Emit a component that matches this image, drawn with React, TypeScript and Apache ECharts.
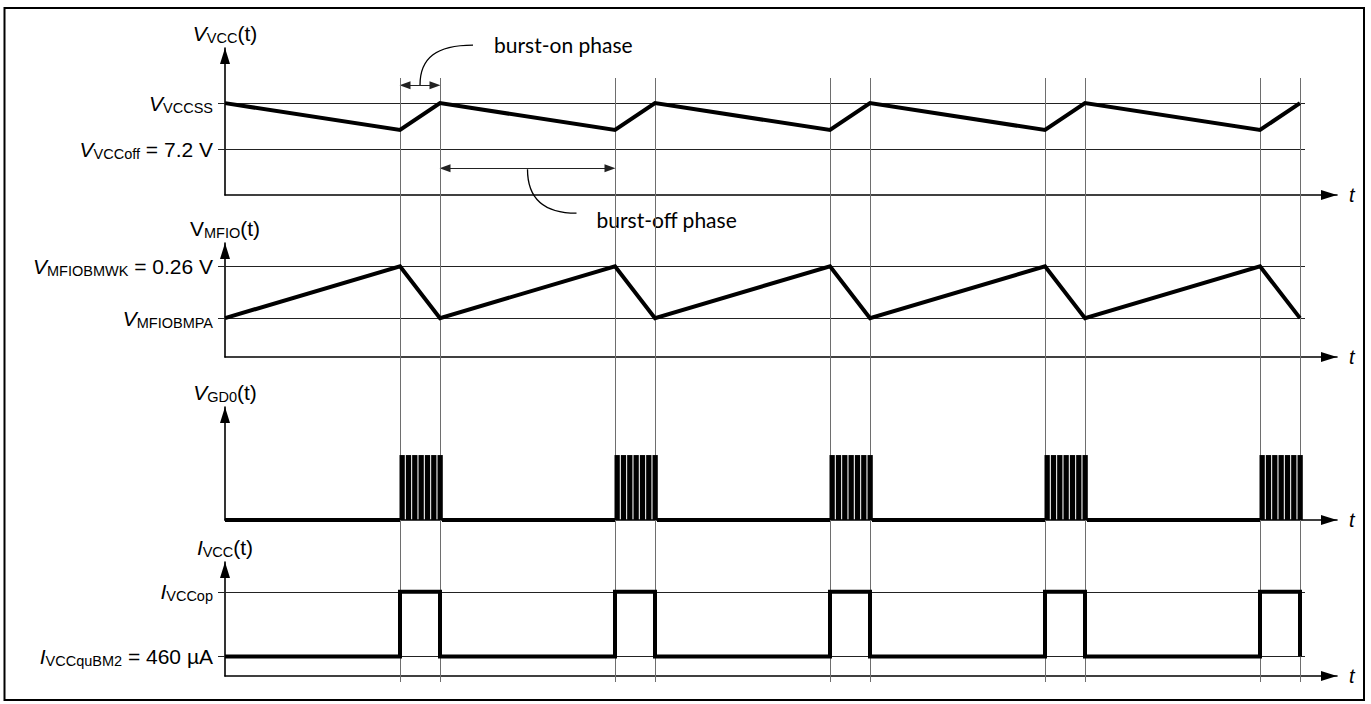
import React, { useEffect, useRef } from "react";
import * as echarts from "echarts";

// ---------- data (arbitrary time units, normalized levels) ----------
const timeMax = 22.24;
const refLineEnd = 21.6;
const burstStarts = [3.5, 7.8, 12.1, 16.4, 20.7];
const burstEnds = [4.3, 8.6, 12.9, 17.2, 21.5];

const vccAxisMax = 6.4;
const vccRefLevels = [2, 4];
const vccRefLabels = ["{i|V}{s|VCCoff}{n| = 7.2 V}", "{i|V}{s|VCCSS}"];
const vccWave = [
  [0, 4], [3.5, 2.83], [4.3, 4], [7.8, 2.83], [8.6, 4], [12.1, 2.83],
  [12.9, 4], [16.4, 2.83], [17.2, 4], [20.7, 2.83], [21.5, 4],
];

const mfioAxisMax = 4.4;
const mfioRefLevels = [1.5, 3.5];
const mfioRefLabels = ["{i|V}{s|MFIOBMPA}", "{i|V}{s|MFIOBMWK}{n| = 0.26 V}"];
const mfioWave = [
  [0, 1.5], [3.5, 3.5], [4.3, 1.5], [7.8, 3.5], [8.6, 1.5], [12.1, 3.5],
  [12.9, 1.5], [16.4, 3.5], [17.2, 1.5], [20.7, 3.5], [21.5, 1.5],
];

const gdAxisMax = 4.35;
const gdPulseHigh = 2.5;
const gdPulseOffsets = [-0.01, 0.117, 0.243, 0.37, 0.497, 0.623, 0.75];
const gdPulseWidth = 0.106;
const gdLowSegments = [
  [0, 3.5], [4.34, 7.8], [8.64, 12.1], [12.94, 16.4], [17.24, 20.7],
];

const ivccAxisMax = 4.4;
const ivccRefLevels = [0.75, 3.25];
const ivccRefLabels = ["{i|I}{s|VCCquBM2}{n| = 460 µA}", "{i|I}{s|VCCop}"];
const ivccWave = [
  [0, 0.75], [3.5, 0.75], [3.5, 3.25], [4.3, 3.25], [4.3, 0.75],
  [7.8, 0.75], [7.8, 3.25], [8.6, 3.25], [8.6, 0.75],
  [12.1, 0.75], [12.1, 3.25], [12.9, 3.25], [12.9, 0.75],
  [16.4, 0.75], [16.4, 3.25], [17.2, 3.25], [17.2, 0.75],
  [20.7, 0.75], [20.7, 3.25], [21.5, 3.25], [21.5, 0.75],
];

const axisNames = [
  "{i|V}{s|VCC}{n|(t)}",
  "{n|V}{s|MFIO}{n|(t)}",
  "{i|V}{s|GD0}{n|(t)}",
  "{i|I}{s|VCC}{n|(t)}",
];

const burstOnArrowLevel = 4.78;
const burstOffArrowLevel = 1.17;
const burstOnText = "burst-on phase";
const burstOffText = "burst-off phase";

// ---------- layout ----------
const FONT = "Liberation Sans";
const gridLeft = 225;
const gridWidth = 1112;
const panelTops = [48, 243, 407, 562];
const panelHeights = [147, 114, 113, 114];

const rich = {
  i: { fontFamily: FONT, fontSize: 21, fontStyle: "italic", color: "#000", lineHeight: 24 },
  n: { fontFamily: FONT, fontSize: 21, color: "#000", lineHeight: 24 },
  s: { fontFamily: FONT, fontSize: 14.5, color: "#000", lineHeight: 16, verticalAlign: "bottom" },
};

function buildOption() {
  const panels = [
    { max: vccAxisMax, levels: vccRefLevels, labels: vccRefLabels },
    { max: mfioAxisMax, levels: mfioRefLevels, labels: mfioRefLabels },
    { max: gdAxisMax, levels: [] as number[], labels: [] as string[] },
    { max: ivccAxisMax, levels: ivccRefLevels, labels: ivccRefLabels },
  ];

  const grid: any[] = panels.map((_, i) => ({
    left: gridLeft, width: gridWidth, top: panelTops[i], height: panelHeights[i],
  }));
  grid.push({ left: gridLeft, width: gridWidth, top: 78, height: 604 });

  const axisLineStyle = { color: "#000", width: 1.6 };

  const xAxis: any[] = panels.map((_, i) => ({
    type: "value", gridIndex: i, min: 0, max: timeMax,
    axisLine: {
      show: true, lineStyle: axisLineStyle,
      symbol: ["none", "triangle"], symbolSize: [10, 16], symbolOffset: [0, -8],
    },
    axisTick: { show: false }, axisLabel: { show: false }, splitLine: { show: false },
    name: "t", nameLocation: "end", nameGap: 12,
    nameTextStyle: { fontFamily: FONT, fontSize: 20, fontStyle: "italic", color: "#000", padding: [4, 0, 0, 0] },
  }));
  xAxis.push({ type: "value", gridIndex: 4, min: 0, max: timeMax, show: false });

  const yAxis: any[] = panels.map((p, i) => ({
    type: "value", gridIndex: i, min: 0, max: p.max,
    axisLine: {
      show: true, lineStyle: axisLineStyle,
      symbol: ["none", "triangle"], symbolSize: [10, 16], symbolOffset: [0, -8],
    },
    axisTick: {
      show: p.levels.length > 0, customValues: p.levels, length: 7, inside: false,
      lineStyle: { color: "#222", width: 1 },
    },
    axisLabel: {
      show: p.levels.length > 0, customValues: p.levels, margin: 12,
      formatter: (v: number) => {
        const k = p.levels.findIndex((l) => Math.abs(l - v) < 1e-6);
        return k >= 0 ? p.labels[k] : "";
      },
      rich,
    },
    splitLine: { show: false },
    name: axisNames[i], nameLocation: "end", nameGap: 3,
    nameTextStyle: { rich, align: "center" },
  }));
  yAxis.push({ type: "value", gridIndex: 4, min: 0, max: 1, show: false });

  const thick = { color: "#000", width: 4, join: "miter", cap: "butt" };
  const refStyle = { color: "#222", width: 1, type: "solid" };

  const refSeries = (i: number, levels: number[], extra: any[] = []) => ({
    type: "line", xAxisIndex: i, yAxisIndex: i, data: [], z: 1, silent: true,
    markLine: {
      silent: true, symbol: ["none", "none"], label: { show: false },
      lineStyle: refStyle, animation: false,
      data: [
        ...levels.map((l) => [{ coord: [0, l] }, { coord: [refLineEnd, l] }]),
        ...extra,
      ],
    },
  });

  const arrowLine = (a: number, b: number, lvl: number) => [
    { coord: [a, lvl], symbol: "triangle", symbolSize: [8, 11] },
    { coord: [b, lvl], symbol: "triangle", symbolSize: [8, 11] },
  ];

  const gdLowData: any[] = [];
  gdLowSegments.forEach(([a, b], k) => {
    if (k > 0) gdLowData.push([a - 0.01, "-"]);
    gdLowData.push([a, 0], [b, 0]);
  });

  const pulses: number[][] = [];
  burstStarts.forEach((s) => {
    gdPulseOffsets.forEach((o) => pulses.push([s + o, s + o + gdPulseWidth, gdPulseHigh]));
  });

  const series: any[] = [
    {
      ...refSeries(0, vccRefLevels, [
        arrowLine(burstStarts[0] + 0.1, burstEnds[0] - 0.1, burstOnArrowLevel),
        arrowLine(burstEnds[0] + 0.1, burstStarts[1] - 0.1, burstOffArrowLevel),
      ]),
    },
    refSeries(1, mfioRefLevels),
    refSeries(3, ivccRefLevels),
    {
      type: "line", xAxisIndex: 4, yAxisIndex: 4, data: [], z: 1, silent: true,
      markLine: {
        silent: true, symbol: ["none", "none"], label: { show: false },
        lineStyle: { color: "#6e6e6e", width: 1, type: "solid" },
        data: [...burstStarts, ...burstEnds].map((t) => ({ xAxis: t })),
      },
    },
    { type: "line", xAxisIndex: 0, yAxisIndex: 0, data: vccWave, symbol: "none", lineStyle: thick, z: 5, silent: true },
    { type: "line", xAxisIndex: 1, yAxisIndex: 1, data: mfioWave, symbol: "none", lineStyle: thick, z: 5, silent: true },
    { type: "line", xAxisIndex: 2, yAxisIndex: 2, data: gdLowData, symbol: "none", lineStyle: thick, z: 5, silent: true, connectNulls: false },
    {
      type: "custom", xAxisIndex: 2, yAxisIndex: 2, z: 5, silent: true,
      data: pulses, encode: { x: [0, 1], y: 2 },
      renderItem: (_p: any, api: any) => {
        const a = api.coord([api.value(0), api.value(2)]);
        const b = api.coord([api.value(1), 0]);
        return {
          type: "rect",
          shape: { x: a[0], y: a[1], width: b[0] - a[0], height: b[1] - a[1] },
          style: { fill: "#000" },
        };
      },
    },
    { type: "line", xAxisIndex: 3, yAxisIndex: 3, data: ivccWave, symbol: "none", lineStyle: thick, z: 5, silent: true },
  ];

  return {
    animation: false,
    backgroundColor: "#fff",
    textStyle: { fontFamily: FONT },
    grid, xAxis, yAxis, series,
  };
}

export default function App() {
  const ref = useRef<HTMLDivElement>(null);
  useEffect(() => {
    const el = ref.current!;
    const chart = echarts.init(el, null, { renderer: "svg" });
    chart.setOption(buildOption() as any);

    const on = chart.convertToPixel({ gridIndex: 0 } as any,
      [(burstStarts[0] + burstEnds[0]) / 2, burstOnArrowLevel]) as number[];
    const off = chart.convertToPixel({ gridIndex: 0 } as any,
      [(burstEnds[0] + burstStarts[1]) / 2, burstOffArrowLevel]) as number[];

    const annFont = "21px Lato";
    chart.setOption({
      graphic: [
        {
          type: "rect", silent: true,
          shape: { x: 4.5, y: 8, width: 1359.5, height: 692 },
          style: { fill: "none", stroke: "#000", lineWidth: 2 },
        },
        {
          type: "bezierCurve", silent: true,
          shape: {
            x1: on[0], y1: on[1], cpx1: on[0], cpy1: on[1] - 27,
            cpx2: on[0] + 16, cpy2: on[1] - 40, x2: on[0] + 53, y2: on[1] - 40,
          },
          style: { stroke: "#000", lineWidth: 1.3, fill: "none" },
        },
        {
          type: "text", silent: true, x: on[0] + 74, y: on[1] - 41,
          style: { text: burstOnText, font: annFont, fill: "#000", verticalAlign: "middle" },
        },
        {
          type: "bezierCurve", silent: true,
          shape: {
            x1: off[0], y1: off[1] + 1, cpx1: off[0], cpy1: off[1] + 27,
            cpx2: off[0] + 13, cpy2: off[1] + 45, x2: off[0] + 49, y2: off[1] + 45,
          },
          style: { stroke: "#000", lineWidth: 1.3, fill: "none" },
        },
        {
          type: "text", silent: true, x: off[0] + 69, y: off[1] + 51,
          style: { text: burstOffText, font: annFont, fill: "#000", verticalAlign: "middle" },
        },
      ],
    });
    return () => chart.dispose();
  }, []);
  return (
    <div
      ref={ref}
      style={{ position: "absolute", left: 0, top: 0, width: 1371, height: 704 }}
    />
  );
}
